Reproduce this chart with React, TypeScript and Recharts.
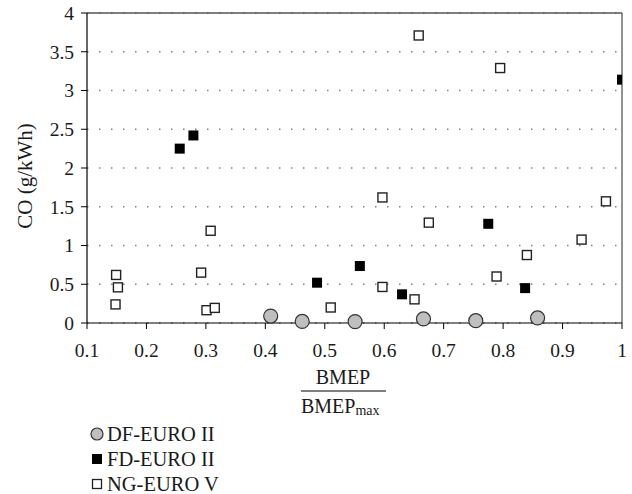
import {
  CartesianGrid,
  ReferenceLine,
  Scatter,
  ScatterChart,
  XAxis,
  YAxis,
} from "recharts";

const xTicks = [0.1, 0.2, 0.3, 0.4, 0.5, 0.6, 0.7, 0.8, 0.9, 1];
const yTicks = [0, 0.5, 1, 1.5, 2, 2.5, 3, 3.5, 4];

// DF-EURO II (grey circles)
const dfX = [0.409, 0.462, 0.551, 0.666, 0.754, 0.858];
const dfY = [0.09, 0.02, 0.018, 0.052, 0.03, 0.065];

// FD-EURO II (black squares)
const fdX = [0.256, 0.279, 0.487, 0.559, 0.63, 0.775, 0.837, 1];
const fdY = [2.25, 2.42, 0.52, 0.735, 0.37, 1.28, 0.45, 3.14];

// NG-EURO V (open squares)
const ngX = [
  0.149, 0.152, 0.148, 0.292, 0.308, 0.301, 0.315, 0.51, 0.597, 0.597, 0.651,
  0.658, 0.675, 0.789, 0.795, 0.84, 0.932, 0.973,
];
const ngY = [
  0.62, 0.46, 0.24, 0.65, 1.19, 0.165, 0.195, 0.2, 1.62, 0.465, 0.305, 3.71,
  1.295, 0.6, 3.29, 0.877, 1.076, 1.57,
];

const zip = (xs: number[], ys: number[]) => xs.map((x, i) => ({ x, y: ys[i] }));

const dfData = zip(dfX, dfY);
const fdData = zip(fdX, fdY);
const ngData = zip(ngX, ngY);

const FONT = '"Liberation Serif", "DejaVu Serif", serif';
const INK = "#1a1a1a";

const circle = (p: any) => (
  <circle cx={p.cx} cy={p.cy} r={7} fill="#bfbfbf" stroke="#333" strokeWidth={1.2} />
);
const filledSquare = (p: any) => (
  <rect x={p.cx - 5} y={p.cy - 5} width={10} height={10} fill="#000" />
);
const openSquare = (p: any) => (
  <rect x={p.cx - 4.5} y={p.cy - 4.5} width={9} height={9} fill="#fff" stroke="#222" strokeWidth={1.4} />
);

const fmt = (v: number) => String(v);

function FractionLabel() {
  return (
    <g fontFamily={FONT} fill={INK}>
      <text x={343} y={377} textAnchor="middle" dominantBaseline="central" fontSize={20}>
        BMEP
      </text>
      <line x1={301} x2={386} y1={391} y2={391} stroke="#000" strokeWidth={1} />
      <text x={301} y={413} fontSize={20}>
        BMEP
        <tspan fontSize={14} dy={2}>max</tspan>
      </text>
    </g>
  );
}

const legendItems = [
  { name: "DF-EURO II", kind: "circle" },
  { name: "FD-EURO II", kind: "filled" },
  { name: "NG-EURO V", kind: "open" },
];

function LegendBox() {
  return (
    <svg
      width={200}
      height={80}
      style={{ position: "absolute", left: 88, top: 422 }}
      fontFamily={FONT}
    >
      {legendItems.map((it, i) => {
        const cy = 12 + i * 25;
        return (
          <g key={it.name}>
            {it.kind === "circle" && (
              <circle cx={9} cy={cy} r={6} fill="#bfbfbf" stroke="#333" strokeWidth={1.2} />
            )}
            {it.kind === "filled" && <rect x={4} y={cy - 5} width={10} height={10} fill="#000" />}
            {it.kind === "open" && (
              <rect x={4.5} y={cy - 4.5} width={9} height={9} fill="#fff" stroke="#222" strokeWidth={1.3} />
            )}
            <text x={19} y={cy} dominantBaseline="central" fontSize={20.5} fill={INK}>
              {it.name}
            </text>
          </g>
        );
      })}
    </svg>
  );
}

export default function App() {
  return (
    <div style={{ position: "absolute", left: 0, top: 0, width: 632, height: 494, background: "#fff" }}>
      <ScatterChart
        width={632}
        height={494}
        margin={{ top: 13, right: 10, bottom: 111, left: 0 }}
      >
        <CartesianGrid
          horizontal
          vertical={false}
          stroke="#808080"
          strokeWidth={1.5}
          strokeDasharray="1.5 10.5"
        />
        <XAxis
          type="number"
          dataKey="x"
          domain={[0.1, 1]}
          ticks={xTicks}
          tickFormatter={fmt}
          allowDataOverflow
          height={60}
          axisLine={{ stroke: "#000", strokeWidth: 1.2 }}
          tickLine={{ stroke: "#000" }}
          tickSize={6}
          tickMargin={14}
          tick={{ fontFamily: FONT, fontSize: 19.5, fill: INK }}
          label={{ content: () => <FractionLabel /> }}
        />
        <YAxis
          type="number"
          dataKey="y"
          domain={[0, 4]}
          ticks={yTicks}
          tickFormatter={fmt}
          width={87}
          axisLine={{ stroke: "#000", strokeWidth: 1.2 }}
          tickLine={{ stroke: "#000" }}
          tickSize={6}
          tickMargin={7}
          tick={{ fontFamily: FONT, fontSize: 19.5, fill: INK }}
          label={{
            content: () => (
              <text
                x={25}
                y={176}
                transform="rotate(-90, 25, 176)"
                textAnchor="middle"
                dominantBaseline="central"
                fontFamily={FONT}
                fontSize={21}
                fill={INK}
              >
                CO (g/kWh)
              </text>
            ),
          }}
        />
        <ReferenceLine y={4} stroke="#555" strokeWidth={1.5} />
        <ReferenceLine x={1} stroke="#222" strokeWidth={1} />
        <Scatter name="NG-EURO V" data={ngData} shape={openSquare} isAnimationActive={false} />
        <Scatter name="FD-EURO II" data={fdData} shape={filledSquare} isAnimationActive={false} />
        <Scatter name="DF-EURO II" data={dfData} shape={circle} isAnimationActive={false} />
      </ScatterChart>
      <LegendBox />
    </div>
  );
}
